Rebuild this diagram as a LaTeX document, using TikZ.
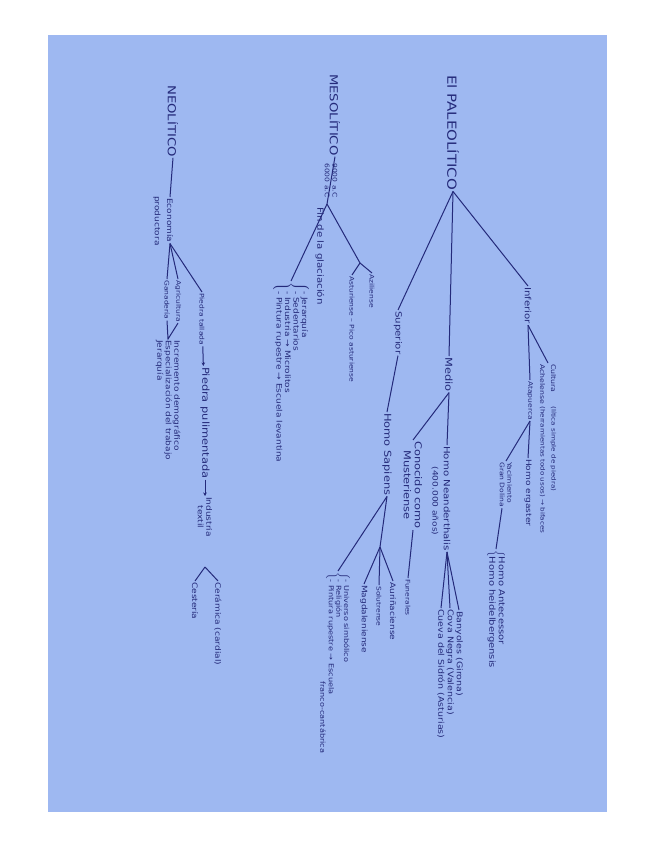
\documentclass[tikz,border=0pt]{standalone}
\usepackage{fontspec}
\setmainfont{DejaVu Sans}[FakeStretch=1.2]
\usetikzlibrary{arrows.meta}
\definecolor{ink}{RGB}{36,42,122}
\definecolor{paper}{RGB}{158,184,241}

\begin{document}
\begin{tikzpicture}[x=1pt, y=1pt,
    ttl/.style={font=\fontsize{12.5}{14}\selectfont},
    per/.style={font=\fontsize{11}{12}\selectfont},
    big/.style={font=\fontsize{9.5}{11}\selectfont},
    lbl/.style={font=\fontsize{8.5}{10.5}\selectfont},
    sml/.style={font=\fontsize{7.5}{8.5}\selectfont},
    lst/.style={font=\fontsize{7.9}{8}\selectfont},
    tny/.style={font=\fontsize{6.3}{7.5}\selectfont},
    every node/.style={text=ink, inner sep=1pt},
    rama/.style={draw=ink, line width=1pt},
    flecha/.style={rama, -{Stealth[length=3.5pt, width=3.5pt]}}
  ]
  \fill[white] (0,0) rectangle (655,-848);
  \fill[paper] (48,-35) rectangle (607,-812);
  \begin{scope}[rotate=-90, transform shape]
    \node[ttl, anchor=west] (paleo) at (74,453) {El PALEOLÍTICO};
    \node[lbl, anchor=west] (inf) at (286,528) {Inferior};
    \node[big, anchor=west] (medio) at (356,449) {Medio};
    \node[lbl, anchor=west] (sup) at (310,398) {Superior};

    \node[anchor=west, align=left, font=\fontsize{6.5}{11}\selectfont] (achel) at (363,548) {Cultura\\Achelense};
    \node[anchor=west, align=left, font=\fontsize{6}{11}\selectfont] (achdesc) at (405,548) {(lítica simple de piedra)\\(herramientas todo usos) → bifaces};
    \node[tny, anchor=west] (atap) at (380,530) {Atapuerca};
    \node[sml, anchor=west] (erga) at (458,528) {Homo ergaster};
    \node[tny, anchor=west, align=left] (dolina) at (461,506) {Yacimiento\\Gran Dolina};
    \node[anchor=west, font=\fontsize{8.3}{9.5}\selectfont] (antec) at (549,496) {$\left\{\begin{tabular}{@{}l@{}}Homo Antecessor\\Homo heidelbergensis\end{tabular}\right.$};

    \node[lbl, anchor=west] (neand) at (445,447) {Homo Neanderthalis};
    \node[sml] (anos) at (501,435) {(400.000 años)};
    \node[big, anchor=west, align=center] (muster) at (440,413) {Conocido como\\Musteriense};
    \node[tny, anchor=west] (funer) at (578,408) {Funerales};
    \node[lst, anchor=west] (banyo) at (610,459) {Banyoles (Girona)};
    \node[lst, anchor=west] (covan) at (608,450) {Cova Negra (Valencia)};
    \node[lst, anchor=west] (sidron) at (608,441) {Cueva del Sidrón (Asturias)};

    \node[big, anchor=west] (sapiens) at (412,387) {Homo Sapiens};
    \coordinate (cult) at (547,380);
    \node[sml, anchor=west] (aurin) at (581,393) {Auriñaciense};
    \node[tny, anchor=west] (solut) at (585,379) {Solutrense};
    \node[sml, anchor=west] (magda) at (584,364) {Magdaleniense};
    \node[anchor=west, font=\fontsize{6.8}{7.5}\selectfont] (simbol) at (571,338) {$\left\{\begin{tabular}{@{}l@{}}- Universo simbólico\\- Religión\\- Pintura rupestre → Escuela\end{tabular}\right.$};
    \node[anchor=west, font=\fontsize{6.8}{7.5}\selectfont] (franco) at (680,323) {franco-cantábrica};

    \node[per, anchor=west] (meso) at (73,335) {MESOLÍTICO};
    \coordinate (mesofork) at (204,327);
    \node[lbl, anchor=west] (glac) at (206,320) {Fin de la glaciación};
    \node[sml, anchor=west] (mesolist) at (281,291) {$\left\{\begin{tabular}{@{}l@{}}- Jerarquía\\- Sedentarios\\- Industria → Microlitos\\- Pintura rupestre → Escuela levantina\end{tabular}\right.$};
    \coordinate (mesoder) at (263,360);
    \node[tny, anchor=west] (azil) at (273,372) {Aziliense};
    \node[tny, anchor=west] (astur) at (275,352) {Asturiense – Pico asturiense};

    \node[per, anchor=west] (neo) at (84,173) {NEOLÍTICO};
    \node[sml, anchor=west] (econ) at (197,170) {Economía};
    \node[sml, anchor=west] (produc) at (195,157) {productora};
    \node[tny, anchor=west] (agri) at (279,178) {Agricultura};
    \node[tny, anchor=west] (gana) at (279,167) {Ganadería};
    \node[sml, anchor=west, align=left] (increm) at (339,168) {Incremento demográfico\\Especialización del trabajo\\Jerarquía};
    \node[tny, anchor=west] (talla) at (292,202) {Piedra tallada};
    \node[big, anchor=west] (pulim) at (366,205) {Piedra pulimentada};
    \node[sml, anchor=west, align=center] (textil) at (496,205) {Industria\\textil};
    \coordinate (tejfork) at (567,205);
    \node[sml, anchor=west] (ceram) at (581,218) {Cerámica (cardial)};
    \node[sml, anchor=west] (cester) at (581,195) {Cestería};

    \draw[rama] (paleo.east) -- (inf.west);
    \draw[rama] (paleo.east) -- (medio.west);
    \draw[rama] (paleo.east) -- (sup.west);
    \draw[rama] (inf.east) -- (achel.west);
    \draw[rama] (inf.east) -- (atap.west);
    \draw[rama] (atap.east) -- (erga.west);
    \draw[rama] (atap.east) -- (dolina.west);
    \draw[rama] ([yshift=-4pt]dolina.east) -- (antec.west);
    \draw[rama] (medio.east) -- (neand.west);
    \draw[rama] (medio.east) -- (muster.west);
    \draw[rama] (muster.east) -- (funer.west);
    \draw[rama] (neand.east) -- (banyo.west);
    \draw[rama] (neand.east) -- (covan.west);
    \draw[rama] (neand.east) -- (sidron.west);
    \draw[rama] (sup.east) -- (sapiens.west);
    \draw[rama] (sapiens.east) -- (cult);
    \draw[rama] (cult) -- (aurin.west);
    \draw[rama] (cult) -- (solut.west);
    \draw[rama] (cult) -- (magda.west);
    \draw[rama] (sapiens.east) -- (simbol.west);
    \draw[rama] (meso.east) -- node[tny, above] (inicio) {9000 a.C} node[tny, below] (final) {6000 a.C} (mesofork);
    \draw[rama] (mesofork) -- (mesolist.west);
    \draw[rama] (mesofork) -- (mesoder);
    \draw[rama] (mesoder) -- (azil.west);
    \draw[rama] (mesoder) -- (astur.west);
    \draw[rama] (neo.east) -- (econ.west);
    \draw[rama] (econ.east) -- (talla.west);
    \draw[rama] (econ.east) -- (agri.west);
    \draw[rama] (econ.east) -- (gana.west);
    \draw[rama] (agri.east) -- (increm.west) -- (gana.east);
    \draw[flecha] (talla) -- (pulim);
    \draw[flecha] (pulim) -- (textil);
    \draw[rama] (tejfork) -- (ceram.west);
    \draw[rama] (tejfork) -- (cester.west);
  \end{scope}
\end{tikzpicture}
\end{document}
